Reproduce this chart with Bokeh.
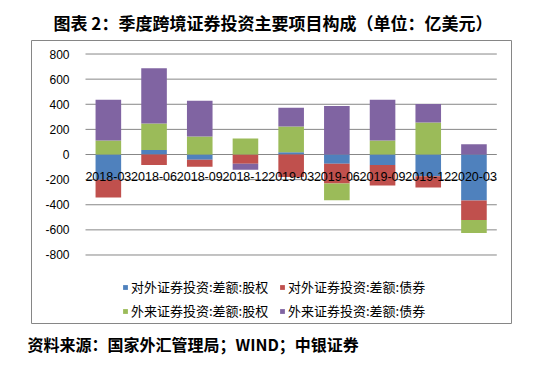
from bokeh.plotting import figure
from bokeh.models import (ColumnDataSource, Range1d, Legend, LegendItem, Title)
from bokeh.core.properties import value
from bokeh.embed import file_html
from bokeh.resources import INLINE

categories = ["2018-03", "2018-06", "2018-09", "2018-12", "2019-03",
              "2019-06", "2019-09", "2019-12", "2020-03"]
out_equity = [-200, 36, -42, 0, 18, -74, -84, -173, -367]
out_bond = [-143, -84, -55, -74, -180, -157, -163, -89, -155]
in_equity = [112, 210, 144, 128, 204, -134, 112, 254, -102]
in_bond = [323, 440, 283, -47, 150, 387, 323, 149, 81]
series_names = ["对外证券投资:差额:股权", "对外证券投资:差额:债券",
                "外来证券投资:差额:股权", "外来证券投资:差额:债券"]
colors = ["#4F81BD", "#C0504D", "#9BBB59", "#8064A2"]
y_ticks = [-800, -600, -400, -200, 0, 200, 400, 600, 800]
y_tick_labels = ["-800", "-600", "-400", "-200", "0", "200", "400", "600", "800"]

title_text = "图表 2：季度跨境证券投资主要项目构成（单位：亿美元）"
source_text = "资料来源：国家外汇管理局；WIND；中银证券"

n = len(categories)
xs = list(range(n))

# layout (pixels): chart box 480x287, plot area inset 54 px left, 14.7 px right
cat_px = 45.7
px_per_unit = 0.12725
x_range = Range1d(-0.5 - 54 / cat_px, n - 0.5 + 14.7 / cat_px)
y_range = Range1d(-800 - 69.4 / px_per_unit, 800 + 13.7 / px_per_unit)

p = figure(width=527, height=362, x_range=x_range, y_range=y_range,
           output_backend="svg", toolbar_location=None,
           x_axis_location=None, y_axis_location=None,
           min_border_left=31, min_border_right=16, min_border_top=40,
           min_border_bottom=35)
p.outline_line_color = "#868686"
p.outline_line_width = 1
p.xgrid.visible = False
p.ygrid.visible = False

# horizontal grid lines
p.segment(x0=[-0.5] * len(y_ticks), x1=[n - 0.5] * len(y_ticks), y0=y_ticks, y1=y_ticks,
          line_color="#878787", line_width=1)

series = [out_equity, out_bond, in_equity, in_bond]
pos = [0.0] * n
neg = [0.0] * n
items = []
for name, vals, col in zip(series_names, series, colors):
    bottoms, tops = [], []
    for i, v in enumerate(vals):
        if v >= 0:
            bottoms.append(pos[i]); tops.append(pos[i] + v); pos[i] += v
        else:
            bottoms.append(neg[i]); tops.append(neg[i] + v); neg[i] += v
    src = ColumnDataSource(dict(x=xs, bottom=bottoms, top=tops))
    r = p.vbar(x="x", bottom="bottom", top="top", width=0.56, source=src,
               fill_color=col, line_color=None)
    items.append(LegendItem(label=name, renderers=[r]))

# category labels at the zero line
lab_src = ColumnDataSource(dict(x=xs, y=[0] * n, t=categories))
p.text(x="x", y="y", text="t", source=lab_src, text_align="center",
       text_baseline="middle", y_offset=22, text_font=value("Liberation Sans"),
       text_font_size="12.5px", text_color="black")

# y tick labels
yt_src = ColumnDataSource(dict(x=[-0.5] * len(y_ticks), y=y_ticks, t=y_tick_labels))
p.text(x="x", y="y", text="t", source=yt_src, text_align="right",
       text_baseline="middle", x_offset=-16, text_font=value("Liberation Sans"),
       text_font_size="12px", text_color="black")

legend = Legend(items=items, location=(91, 3), orientation="horizontal", ncols=2,
                glyph_width=6, glyph_height=6, label_standoff=3, spacing=5,
                padding=0, margin=0, label_height=14, label_width=143,
                border_line_color=None,
                background_fill_alpha=0, label_text_font="Noto Sans CJK SC",
                label_text_font_size="13px", label_text_color="black")
p.add_layout(legend, "center")

p.title.text = title_text
p.title.align = "left"
p.title.offset = 22
p.title.standoff = 11
p.title.text_font = "Noto Sans CJK SC"
p.title.text_font_style = "bold"
p.title.text_font_size = "17px"
p.title.text_color = "black"

p.add_layout(Title(text=source_text, align="left", offset=-4, standoff=13,
                   text_font="Noto Sans CJK SC", text_font_style="bold",
                   text_font_size="16px", text_color="black"), "below")

open("out.html", "w").write(file_html(p, INLINE))
